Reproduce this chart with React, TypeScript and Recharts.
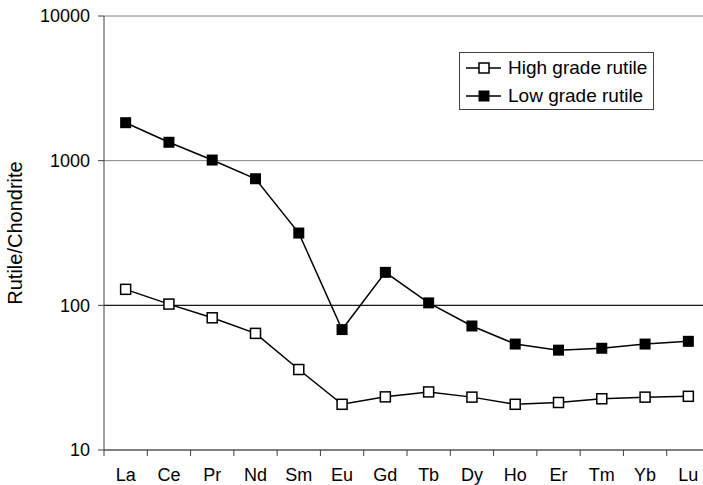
import { LineChart, Line, XAxis, YAxis, CartesianGrid, Legend, ReferenceLine } from 'recharts';

// REE elements along the x axis
const elements = ['La', 'Ce', 'Pr', 'Nd', 'Sm', 'Eu', 'Gd', 'Tb', 'Dy', 'Ho', 'Er', 'Tm', 'Yb', 'Lu'];

// chondrite-normalised values
const highGrade = [129, 102, 82, 64, 36, 20.7, 23.3, 25.2, 23.2, 20.7, 21.3, 22.6, 23.2, 23.5];
const lowGrade = [1830, 1340, 1010, 750, 316, 68, 169, 104, 72, 54, 49, 50.5, 54, 56.4];

const yTicks = [10, 100, 1000, 10000];

const data = elements.map((el, i) => ({
  pos: i + 0.5,
  el,
  high: highGrade[i],
  low: lowGrade[i],
}));

// labels sit mid-category, tick marks sit on the category boundaries
const xTicks = [...elements.map((_, i) => i), elements.length, ...elements.map((_, i) => i + 0.5)].sort((a, b) => a - b);

const font = '"Liberation Sans", Arial, sans-serif';

function XTick({ x, y, payload }: any) {
  const v = payload.value as number;
  if (Number.isInteger(v)) {
    return <line x1={x} x2={x} y1={y - 6} y2={y} stroke="#404040" strokeWidth={1} />;
  }
  return (
    <text x={x} y={y + 12} dy="0.71em" textAnchor="middle" fontSize={18} fontFamily={font} fill="#000">
      {elements[Math.floor(v)]}
    </text>
  );
}

function OpenSquare({ cx, cy, index }: any) {
  return <rect key={`h${index}`} x={cx - 5} y={cy - 5} width={10} height={10} fill="#fff" stroke="#000" strokeWidth={1.5} />;
}

function FilledSquare({ cx, cy, index }: any) {
  return <rect key={`l${index}`} x={cx - 5.5} y={cy - 5.5} width={11} height={11} fill="#000" />;
}

function LegendBox() {
  const rows = [
    { label: 'High grade rutile', filled: false },
    { label: 'Low grade rutile', filled: true },
  ];
  return (
    <div style={{ border: '1px solid #404040', background: '#fff', width: 193, height: 55, boxSizing: 'content-box', paddingTop: 1 }}>
      {rows.map(r => (
        <div key={r.label} style={{ display: 'flex', alignItems: 'center', height: 28 }}>
          <svg width={48} height={20} style={{ display: 'block' }}>
            <line x1={6} x2={41} y1={10} y2={10} stroke="#000" strokeWidth={1.5} />
            {r.filled
              ? <rect x={18.5} y={4.5} width={11} height={11} fill="#000" />
              : <rect x={19} y={5} width={10} height={10} fill="#fff" stroke="#000" strokeWidth={1.5} />}
          </svg>
          <span style={{ fontFamily: font, fontSize: 19, color: '#000', lineHeight: '20px' }}>{r.label}</span>
        </div>
      ))}
    </div>
  );
}

export default function App() {
  return (
    <div style={{ position: 'absolute', left: 0, top: 0, width: 703, height: 485, overflow: 'hidden', background: '#fff' }}>
      <LineChart width={720} height={485} data={data} margin={{ top: 16, right: 10, bottom: 0, left: 0 }}>
        <CartesianGrid vertical={false} stroke="#808080" strokeWidth={1} />
        <ReferenceLine y={100} stroke="#000" strokeWidth={1} />
        <XAxis
          type="number"
          dataKey="pos"
          domain={[0, elements.length]}
          ticks={xTicks}
          interval={0}
          tick={<XTick />}
          tickLine={false}
          tickSize={6}
          tickMargin={0}
          height={35}
          stroke="#404040"
          allowDataOverflow
        />
        <YAxis
          type="number"
          scale="log"
          domain={[10, 10000]}
          ticks={yTicks}
          interval={0}
          width={104}
          tickSize={6}
          tickMargin={8}
          stroke="#404040"
          tick={{ fill: '#000', fontSize: 18, fontFamily: font }}
          allowDataOverflow
          label={{ value: 'Rutile/Chondrite', angle: -90, position: 'insideLeft', offset: 15, style: { textAnchor: 'middle', fontSize: 20, fontFamily: font, fill: '#000' } }}
        />
        <Legend
          layout="horizontal"
          verticalAlign="middle"
          align="center"
          content={<LegendBox />}
          wrapperStyle={{ position: 'absolute', left: 459, top: 52, width: 'auto', height: 'auto' }}
        />
        <Line dataKey="high" stroke="#000" strokeWidth={1.5} dot={<OpenSquare />} isAnimationActive={false} />
        <Line dataKey="low" stroke="#000" strokeWidth={1.5} dot={<FilledSquare />} isAnimationActive={false} />
      </LineChart>
    </div>
  );
}
